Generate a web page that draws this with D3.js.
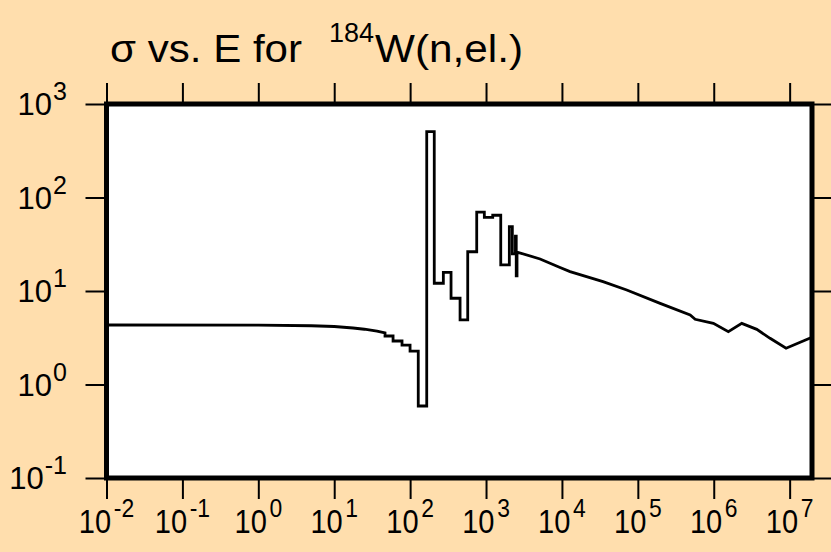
<!DOCTYPE html>
<html><head><meta charset="utf-8">
<script src="https://cdn.jsdelivr.net/npm/d3@7/dist/d3.min.js"></script>
<style>
html,body{margin:0;padding:0;background:#FFDEAD;}
svg{display:block;font-family:"Liberation Sans",Arial,Helvetica,sans-serif;}
</style></head>
<body>
<svg id="chart" width="831" height="552"></svg>
<script>
// ---- data (energy in eV, cross section in barns) ----
const lowE   = [0.01, 1, 5, 10, 17.7, 25, 36.6, 46.7];
const lowSig = [4.33, 4.31, 4.25, 4.17, 4.02, 3.9, 3.73, 3.56];

const stepE   = [46.7, 59.6, 78.2, 99.8, 128, 165.5, 208, 274, 346, 455, 574, 754, 950, 1225, 1563, 2028, 2222, 2440, 2500, 2560];
const stepSig = [3.30, 2.92, 2.64, 2.28, 0.589, 506, 12.1, 15.8, 8.36, 4.90, 26.3, 69.6, 61.4, 64.6, 19.0, 48.8, 25.0, 38.7, 14.5, 26.1];

const tailE   = [2560, 5152, 9440, 12790, 34780, 71400, 196700, 489000, 569000, 989000, 1.557e6, 2.34e6, 3.69e6, 5.52e6, 8.97e6, 1.97e7];
const tailSig = [26.1, 22.0, 17.8, 16.1, 12.6, 10.26, 7.38, 5.53, 4.98, 4.51, 3.67, 4.51, 3.89, 3.12, 2.44, 3.20];

const xTickExps = [-2, -1, 0, 1, 2, 3, 4, 5, 6, 7];
const yTickExps = [-1, 0, 1, 2, 3];

const titleMain = "σ vs. E for";
const titleSup = "184";
const titleEnd = "W(n,el.)";

// ---- layout ----
const svg = d3.select("#chart");
const L = 106.5, R = 812, T = 104, B = 478;

const x = d3.scaleLog().domain([1e-2, 1.97e7]).range([L, R]);
const y = d3.scaleLog().domain([1e-1, 1e3]).range([B, T]);

svg.append("rect").attr("width", 831).attr("height", 552).attr("fill", "#FFDEAD");

svg.append("rect").attr("x", L).attr("y", T).attr("width", R - L).attr("height", B - T)
  .attr("fill", "#fff");

svg.append("clipPath").attr("id", "clip").append("rect")
  .attr("x", L).attr("y", T).attr("width", R - L).attr("height", B - T);

const toPts = (E, S) => E.map((e, i) => [e, S[i]]);
const lineLin = d3.line().x(d => x(d[0])).y(d => y(d[1]));
const lineStep = d3.line().x(d => x(d[0])).y(d => y(d[1])).curve(d3.curveStepAfter);
const p1 = lineLin(toPts(lowE, lowSig));
const p2 = lineStep(toPts(stepE, stepSig)).replace(/^M/, "L");
const p3 = lineLin(toPts(tailE, tailSig)).replace(/^M/, "L");
svg.append("path").attr("d", p1 + p2 + p3)
  .attr("clip-path", "url(#clip)")
  .attr("fill", "none").attr("stroke", "#000").attr("stroke-width", 2.8)
  .attr("stroke-linejoin", "miter");

const xTicks = xTickExps.map(e => Math.pow(10, e));
const yTicks = yTickExps.map(e => Math.pow(10, e));
const tl = 21;

function styleAxis(g) {
  g.select(".domain").remove();
  g.selectAll(".tick line").attr("stroke", "#000").attr("stroke-width", 2);
  g.selectAll(".tick text").remove();
}
svg.append("g").attr("transform", `translate(0,${B})`)
  .call(d3.axisBottom(x).tickValues(xTicks).tickSize(tl)).call(styleAxis);
svg.append("g").attr("transform", `translate(0,${T})`)
  .call(d3.axisTop(x).tickValues(xTicks).tickSize(tl)).call(styleAxis);
svg.append("g").attr("transform", `translate(${L},0)`)
  .call(d3.axisLeft(y).tickValues(yTicks).tickSize(tl)).call(styleAxis);
svg.append("g").attr("transform", `translate(${R},0)`)
  .call(d3.axisRight(y).tickValues(yTicks).tickSize(tl)).call(styleAxis);

svg.append("rect").attr("x", L).attr("y", T).attr("width", R - L).attr("height", B - T)
  .attr("fill", "none").attr("stroke", "#000").attr("stroke-width", 5);

// x tick labels
xTickExps.forEach(e => {
  const g = svg.append("g")
    .attr("transform", `translate(${x(Math.pow(10, e))},533) scale(0.88,1)`);
  const t = g.append("text").attr("x", 0).attr("y", 0)
    .attr("text-anchor", "middle").attr("font-size", 33).attr("fill", "#000");
  t.append("tspan").text("10");
  t.append("tspan").attr("font-size", 26).attr("dx", 3).attr("dy", -16).text(String(e));
});

// y tick labels
yTickExps.forEach(e => {
  const g = svg.append("g")
    .attr("transform", `translate(67,${y(Math.pow(10, e)) + 11}) scale(1.0,1)`);
  const t = g.append("text").attr("x", 0).attr("y", 0)
    .attr("text-anchor", "end").attr("font-size", 31).attr("fill", "#000");
  t.append("tspan").text("10");
  t.append("tspan").attr("font-size", 25).attr("dx", 1).attr("dy", -15).text(String(e));
});

// title
svg.append("text").attr("x", 110).attr("y", 62).attr("font-size", 38)
  .attr("textLength", 192).attr("lengthAdjust", "spacingAndGlyphs").text(titleMain);
svg.append("text").attr("x", 329).attr("y", 42).attr("font-size", 27)
  .attr("textLength", 45).attr("lengthAdjust", "spacingAndGlyphs").text(titleSup);
svg.append("text").attr("x", 375).attr("y", 62).attr("font-size", 38)
  .attr("textLength", 148).attr("lengthAdjust", "spacingAndGlyphs").text(titleEnd);
</script>
</body></html>
